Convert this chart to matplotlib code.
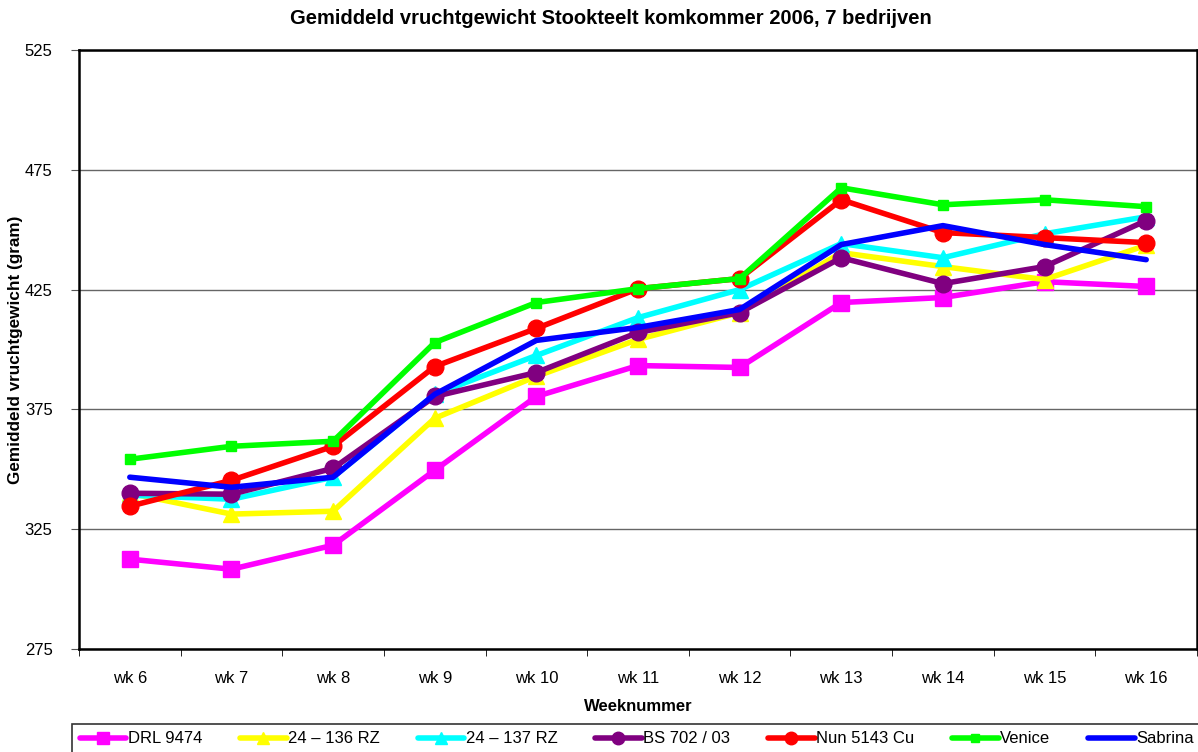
import matplotlib
matplotlib.use('Agg')
import matplotlib.pyplot as plt
import numpy as np

plt.rcParams['font.family'] = ['Liberation Sans', 'DejaVu Sans']

weeks = ['wk 6', 'wk 7', 'wk 8', 'wk 9', 'wk 10', 'wk 11', 'wk 12', 'wk 13', 'wk 14', 'wk 15', 'wk 16']

drl_9474 = [312.5, 308.3, 318.3, 349.6, 380.4, 393.3, 392.5, 419.6, 421.7, 428.3, 426.3]
rz_136 = [340.0, 331.3, 332.5, 371.3, 388.8, 404.2, 415.4, 440.4, 434.6, 429.2, 443.5]
rz_137 = [339.2, 337.5, 346.7, 381.3, 397.5, 413.3, 425.0, 444.2, 438.3, 448.3, 455.4]
bs_702 = [340.0, 339.6, 350.4, 380.4, 390.4, 407.1, 415.4, 438.3, 427.5, 434.6, 453.8]
nun_5143 = [334.6, 345.4, 359.6, 392.9, 408.8, 425.4, 429.6, 462.5, 448.8, 446.7, 444.6]
venice = [354.2, 359.6, 361.7, 402.9, 419.6, 425.4, 429.6, 467.5, 460.4, 462.5, 459.6]
sabrina = [346.7, 342.5, 346.7, 381.3, 403.8, 409.2, 416.7, 443.8, 451.7, 443.8, 437.5]

series = [
    ('DRL 9474', drl_9474, '#FF00FF', 's', 11),
    ('24 \u2013 136 RZ', rz_136, '#FFFF00', '^', 11),
    ('24 \u2013 137 RZ', rz_137, '#00FFFF', '^', 11),
    ('BS 702 / 03', bs_702, '#800080', 'o', 12),
    ('Nun 5143 Cu', nun_5143, '#FF0000', 'o', 12),
    ('Venice', venice, '#00FF00', 's', 7),
    ('Sabrina', sabrina, '#0000FF', None, 0),
]

fig = plt.figure(figsize=(11.98, 7.52), dpi=100)
ax = fig.add_axes([79 / 1198, 1 - 649 / 752, (1197 - 79) / 1198, (649 - 50) / 752])

x = np.arange(len(weeks))
for name, vals, col, mk, ms in series:
    ax.plot(x, vals, color=col, lw=4, marker=mk, markersize=ms,
            markeredgecolor=col, label=name, solid_capstyle='round')

ax.set_xlim(-0.5, len(weeks) - 0.5)
ax.set_ylim(275, 525)
ax.set_yticks([275, 325, 375, 425, 475, 525])
ax.set_xticks(x)
ax.set_xticklabels(weeks, fontsize=12)
ax.set_xticks(np.arange(-0.5, len(weeks)), minor=True)
ax.tick_params(axis='x', which='major', length=0, pad=16)
ax.tick_params(axis='x', which='minor', length=5, direction='out', color='black')
ax.tick_params(axis='y', labelsize=12, length=6, direction='out', color='#555555', pad=13)
ax.grid(axis='y', color='#666666', lw=1)
ax.set_axisbelow(True)
for s in ax.spines.values():
    s.set_linewidth(1.8)
    s.set_color('black')

fig.text(611 / 1198, 1 - 19 / 752, 'Gemiddeld vruchtgewicht Stookteelt komkommer 2006, 7 bedrijven',
         fontsize=14.5, fontweight='bold', ha='center', va='center')
ax.set_xlabel('Weeknummer', fontsize=12, fontweight='bold', labelpad=9)
ax.set_ylabel('Gemiddeld vruchtgewicht (gram)', fontsize=12.3, fontweight='bold', labelpad=1)

leg = ax.legend(loc='upper left', bbox_to_anchor=(-0.006, -0.175, 1.01, 0.05), ncol=7,
                mode='expand', frameon=True, fancybox=False, fontsize=12,
                handlelength=2.8, handletextpad=0.1, markerscale=0.75,
                borderpad=0.45, borderaxespad=0)
leg.get_frame().set_edgecolor('black')
leg.get_frame().set_linewidth(1.2)

fig.savefig('out.png', dpi=100)
